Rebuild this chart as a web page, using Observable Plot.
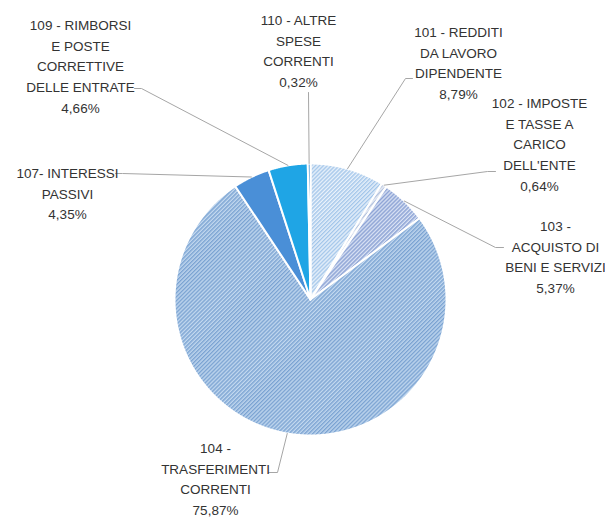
<!DOCTYPE html>
<html><head><meta charset="utf-8">
<script src="https://cdn.jsdelivr.net/npm/d3@7"></script>
<script src="https://cdn.jsdelivr.net/npm/@observablehq/plot@0.6"></script>
<style>body{margin:0;background:#fff;font-family:"Liberation Sans",Arial,sans-serif}</style>
</head><body><div id="chart"></div>
<script>
// ---- data ----
const codes = ["101","102","103","104","107","109","110"];
const names = [
  ["101 - REDDITI","DA LAVORO","DIPENDENTE"],
  ["102 - IMPOSTE","E TASSE A","CARICO","DELL'ENTE"],
  ["103 -","ACQUISTO DI","BENI E SERVIZI"],
  ["104 -","TRASFERIMENTI","CORRENTI"],
  ["107- INTERESSI","PASSIVI"],
  ["109 - RIMBORSI","E POSTE","CORRETTIVE","DELLE ENTRATE"],
  ["110 - ALTRE","SPESE","CORRENTI"]
];
const shares = [8.79, 0.64, 5.37, 75.87, 4.35, 4.66, 0.32];

// ---- layout / style (not data) ----
const W = 605, H = 518, cx = 310, cy = 299, R = 136;
const lineGap = 20.8;
const labelPos = {
  "101": {x: 458, y: 32, elbow: [[412, 78], [405, 78]]},
  "102": {x: 539, y: 103, elbow: [[495, 171], [487, 171]]},
  "103": {x: 555, y: 226, elbow: [[503, 247], [495, 247]]},
  "104": {x: 215, y: 448, elbow: [[268, 472], [277, 472]]},
  "107": {x: 67, y: 173, elbow: [[115, 173], [122, 173]]},
  "109": {x: 80, y: 25, elbow: [[134, 88], [141, 88]]},
  "110": {x: 298, y: 20, elbow: [[308, 92]]}
};
const fills = {
  "101": "url(#p101)", "102": "url(#p102)", "103": "url(#p103)", "104": "url(#p104)",
  "107": "#4a8fd7", "109": "#1fa5e5", "110": "#1f7bc4"
};

// ---- geometry via d3.pie ----
const rows = codes.map((c, i) => ({code: c, value: shares[i], name: names[i]}));
const arcs = d3.pie().sort(null).value(d => d.value)(rows);
const pt = (a, r) => ({x: cx + r * Math.sin(a), y: cy - r * Math.cos(a)});

const sliceMarks = arcs.map(a => {
  const pts = [pt(0, 0)];
  const n = Math.max(2, Math.ceil((a.endAngle - a.startAngle) / 0.005));
  for (let k = 0; k <= n; k++) pts.push(pt(a.startAngle + (a.endAngle - a.startAngle) * k / n, R));
  pts.push(pt(0, 0));
  return Plot.line(pts, {x: "x", y: "y", fill: fills[a.data.code], stroke: "white", strokeWidth: 2, strokeLinejoin: "round"});
});

const leaders = [];
const texts = [];
arcs.forEach(a => {
  const c = a.data.code, L = labelPos[c];
  L.elbow.forEach(([x, y]) => leaders.push({code: c, x, y}));
  const p = pt((a.startAngle + a.endAngle) / 2, R);
  leaders.push({code: c, x: p.x, y: p.y});
  const lines = [...a.data.name, a.data.value.toFixed(2).replace(".", ",") + "%"];
  lines.forEach((t, i) => texts.push({x: L.x, y: L.y + i * lineGap, t}));
});

const chart = Plot.plot({
  width: W, height: H, margin: 0,
  x: {domain: [0, W], range: [0, W], axis: null},
  y: {domain: [0, H], range: [0, H], axis: null},
  marks: [
    ...sliceMarks,
    Plot.line(leaders, {x: "x", y: "y", z: "code", stroke: "#a6a6a6", strokeWidth: 1}),
    Plot.text(texts, {x: "x", y: "y", text: "t", fontSize: 13.5, fill: "#333333", textAnchor: "middle", fontFamily: "'Liberation Sans', Arial, sans-serif"})
  ]
});

function pattern(id, bg, stripe) {
  return `<pattern id="${id}" patternUnits="userSpaceOnUse" width="2.8" height="2.8" patternTransform="rotate(45)">
    <rect width="2.8" height="2.8" fill="${bg}"/><rect width="1.4" height="2.8" fill="${stripe}"/></pattern>`;
}
chart.insertAdjacentHTML("afterbegin", `<defs>
  ${pattern("p101", "#eaf2fb", "#a3c6ea")}
  ${pattern("p102", "#eef1f7", "#b3c2de")}
  ${pattern("p103", "#dae3f4", "#889fd3")}
  ${pattern("p104", "#c2d8ef", "#7ba3d2")}
</defs>`);
document.getElementById("chart").append(chart);
</script>
</body></html>
